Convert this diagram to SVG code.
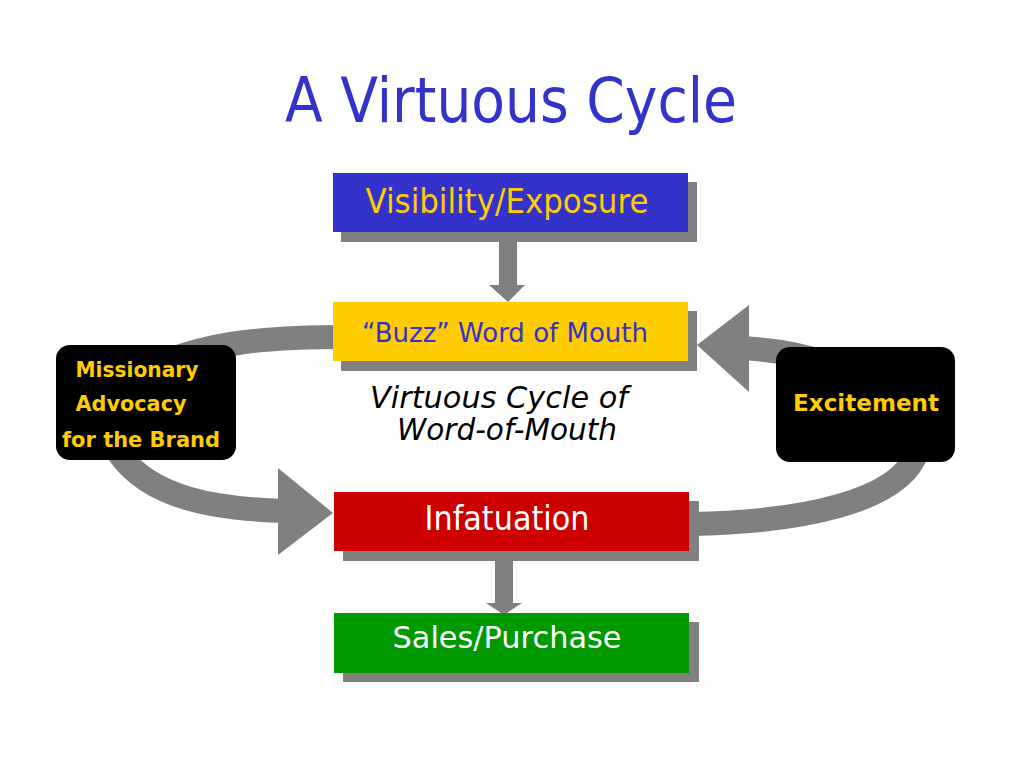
<svg xmlns="http://www.w3.org/2000/svg" width="1024" height="768" viewBox="0 0 1024 768">
<style>
.band{fill:none;stroke:#808080;stroke-width:24}
.head{fill:#808080}
.shadow{fill:#808080}
.lbl{font-family:"DejaVu Sans","Liberation Sans",sans-serif;text-anchor:middle}
.dark{fill:#000000}
.yt{fill:#FFCC00;font-weight:bold}
</style>
<rect width="1024" height="768" fill="#FFFFFF"/>
<text class="lbl" x="511" y="122" font-size="62" fill="#3333CC" textLength="452" lengthAdjust="spacingAndGlyphs">A Virtuous Cycle</text>
<g id="connectors">
  <path class="band" d="M345 337 C270 337 210 342 160 364"/>
  <path class="band" d="M118 452 C150 500 220 509 285 511"/>
  <polygon class="head" points="278,468 278,555 333,513"/>
  <path class="band" d="M740 348 C780 350 810 356 845 370"/>
  <polygon class="head" points="697,345 749,305 749,392"/>
  <path class="band" d="M917 452 C900 502 800 522 692 524"/>
  <rect class="head" x="499" y="232" width="18" height="54"/>
  <polygon class="head" points="489,285 525,285 508,302"/>
  <rect class="head" x="495" y="551" width="18" height="53"/>
  <polygon class="head" points="486,603 522,603 504,615"/>
</g>
<g id="visibility">
  <rect class="shadow" x="341" y="182" width="356" height="60"/>
  <rect x="333" y="173" width="355" height="59" fill="#3333CC"/>
  <text class="lbl" x="507" y="213" font-size="33" fill="#FFCC00" textLength="283" lengthAdjust="spacingAndGlyphs">Visibility/Exposure</text>
</g>
<g id="buzz">
  <rect class="shadow" x="341" y="311" width="356" height="60"/>
  <rect x="333" y="302" width="355" height="59" fill="#FFCC00"/>
  <text class="lbl" x="505" y="342" font-size="26" fill="#3333CC" textLength="286" lengthAdjust="spacingAndGlyphs">“Buzz” Word of Mouth</text>
</g>
<g id="infatuation">
  <rect class="shadow" x="343" y="501" width="356" height="60"/>
  <rect x="334" y="492" width="355" height="59" fill="#CC0000"/>
  <text class="lbl" x="507" y="530" font-size="33" fill="#FFFFFF" textLength="165" lengthAdjust="spacingAndGlyphs">Infatuation</text>
</g>
<g id="sales">
  <rect class="shadow" x="343" y="622" width="356" height="60"/>
  <rect x="334" y="613" width="355" height="60" fill="#009900"/>
  <text class="lbl" x="507" y="648" font-size="30" fill="#FFFFFF" textLength="229" lengthAdjust="spacingAndGlyphs">Sales/Purchase</text>
</g>
<g id="missionary">
  <rect class="dark" x="56" y="345" width="180" height="115" rx="14"/>
  <text class="lbl yt" x="137" y="377" font-size="22" textLength="123" lengthAdjust="spacingAndGlyphs">Missionary</text>
  <text class="lbl yt" x="131" y="411" font-size="22" textLength="111" lengthAdjust="spacingAndGlyphs">Advocacy</text>
  <text class="lbl yt" x="141" y="447" font-size="22" textLength="158" lengthAdjust="spacingAndGlyphs">for the Brand</text>
</g>
<g id="excitement">
  <rect class="dark" x="776" y="347" width="179" height="115" rx="14"/>
  <text class="lbl yt" x="866" y="411" font-size="23" textLength="146" lengthAdjust="spacingAndGlyphs">Excitement</text>
</g>
<g id="caption">
  <text class="lbl" x="499" y="408" font-size="30" font-style="italic" fill="#000000" textLength="258" lengthAdjust="spacingAndGlyphs">Virtuous Cycle of</text>
  <text class="lbl" x="507" y="440" font-size="30" font-style="italic" fill="#000000" textLength="220" lengthAdjust="spacingAndGlyphs">Word-of-Mouth</text>
</g>
</svg>
